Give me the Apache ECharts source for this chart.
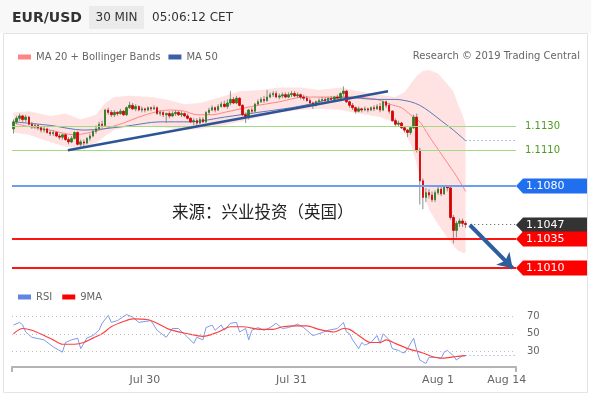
<!DOCTYPE html>
<html>
<head>
<meta charset="utf-8">
<script src="https://cdn.jsdelivr.net/npm/echarts@6/dist/echarts.min.js"></script>
<style>
  html, body { margin: 0; padding: 0; background: #fff; }
  #chart { width: 591px; height: 399px; }
</style>
</head>
<body>
<div id="chart"></div>
<script>
// slot count on the time axis (149 candles + empty space to the right)
const SLOTS = 165;

// 30 min candles, [open, close, low, high]
const candles = [
  [1.1128,1.1134,1.1124,1.1136],[1.1134,1.1137,1.1132,1.1139],[1.1137,1.1139,1.1135,1.1141],[1.1139,1.1136,1.1134,1.1140],[1.1136,1.1138,1.1134,1.1140],
  [1.1138,1.1132,1.1131,1.1139],[1.1132,1.1130,1.1128,1.1134],[1.1130,1.1131,1.1128,1.1133],[1.1131,1.1129,1.1127,1.1132],[1.1129,1.1127,1.1125,1.1130],
  [1.1127,1.1128,1.1125,1.1130],[1.1128,1.1125,1.1124,1.1129],[1.1125,1.1124,1.1122,1.1127],[1.1124,1.1125,1.1122,1.1127],[1.1125,1.1122,1.1121,1.1126],
  [1.1122,1.1121,1.1119,1.1124],[1.1121,1.1123,1.1119,1.1124],[1.1123,1.1119,1.1118,1.1124],[1.1119,1.1117,1.1115,1.1121],[1.1117,1.1120,1.1116,1.1122],
  [1.1120,1.1125,1.1119,1.1126],[1.1125,1.1115,1.1114,1.1126],[1.1115,1.1117,1.1113,1.1119],[1.1117,1.1116,1.1113,1.1119],[1.1116,1.1120,1.1115,1.1121],
  [1.1120,1.1122,1.1118,1.1124],[1.1122,1.1126,1.1121,1.1127],[1.1126,1.1128,1.1124,1.1131],[1.1128,1.1132,1.1127,1.1134],[1.1132,1.1131,1.1129,1.1135],
  [1.1131,1.1144,1.1130,1.1145],[1.1144,1.1142,1.1140,1.1146],[1.1142,1.1140,1.1138,1.1144],[1.1140,1.1142,1.1138,1.1144],[1.1142,1.1141,1.1139,1.1143],
  [1.1141,1.1143,1.1140,1.1145],[1.1143,1.1140,1.1139,1.1144],[1.1140,1.1146,1.1139,1.1147],[1.1146,1.1148,1.1145,1.1151],[1.1148,1.1145,1.1144,1.1150],
  [1.1145,1.1147,1.1143,1.1149],[1.1147,1.1144,1.1143,1.1148],[1.1144,1.1145,1.1142,1.1147],[1.1145,1.1144,1.1142,1.1146],[1.1144,1.1146,1.1143,1.1147],
  [1.1146,1.1145,1.1143,1.1147],[1.1145,1.1146,1.1144,1.1148],[1.1146,1.1141,1.1140,1.1147],[1.1141,1.1142,1.1139,1.1144],[1.1142,1.1140,1.1138,1.1143],
  [1.1140,1.1141,1.1133,1.1142],[1.1141,1.1139,1.1137,1.1143],[1.1139,1.1141,1.1138,1.1143],[1.1141,1.1142,1.1139,1.1144],[1.1142,1.1140,1.1139,1.1143],
  [1.1140,1.1141,1.1138,1.1143],[1.1141,1.1139,1.1138,1.1142],[1.1139,1.1137,1.1136,1.1141],[1.1137,1.1134,1.1133,1.1138],[1.1134,1.1135,1.1131,1.1137],
  [1.1135,1.1133,1.1130,1.1137],[1.1133,1.1136,1.1132,1.1138],[1.1136,1.1134,1.1133,1.1138],[1.1134,1.1142,1.1133,1.1143],[1.1142,1.1144,1.1140,1.1146],
  [1.1144,1.1146,1.1143,1.1148],[1.1146,1.1144,1.1142,1.1147],[1.1144,1.1147,1.1143,1.1149],[1.1147,1.1149,1.1146,1.1151],[1.1149,1.1147,1.1146,1.1152],
  [1.1147,1.1150,1.1145,1.1153],[1.1150,1.1153,1.1148,1.1160],[1.1153,1.1150,1.1149,1.1155],[1.1150,1.1154,1.1149,1.1156],[1.1154,1.1148,1.1147,1.1155],
  [1.1148,1.1140,1.1139,1.1149],[1.1140,1.1138,1.1133,1.1142],[1.1138,1.1144,1.1136,1.1145],[1.1144,1.1143,1.1141,1.1146],[1.1143,1.1149,1.1142,1.1150],
  [1.1149,1.1151,1.1148,1.1153],[1.1151,1.1153,1.1150,1.1155],[1.1153,1.1152,1.1150,1.1156],[1.1152,1.1155,1.1151,1.1161],[1.1155,1.1157,1.1154,1.1159],
  [1.1157,1.1158,1.1155,1.1160],[1.1158,1.1155,1.1154,1.1160],[1.1155,1.1156,1.1153,1.1158],[1.1156,1.1157,1.1154,1.1159],[1.1157,1.1155,1.1154,1.1159],
  [1.1155,1.1157,1.1154,1.1159],[1.1157,1.1158,1.1155,1.1160],[1.1158,1.1156,1.1155,1.1160],[1.1156,1.1157,1.1154,1.1159],[1.1157,1.1155,1.1153,1.1158],
  [1.1155,1.1154,1.1152,1.1157],[1.1154,1.1152,1.1151,1.1156],[1.1152,1.1150,1.1149,1.1154],[1.1150,1.1148,1.1145,1.1151],[1.1148,1.1151,1.1147,1.1152],
  [1.1151,1.1152,1.1150,1.1154],[1.1152,1.1153,1.1151,1.1155],[1.1153,1.1152,1.1151,1.1155],[1.1152,1.1154,1.1151,1.1155],[1.1154,1.1153,1.1152,1.1156],
  [1.1153,1.1155,1.1152,1.1156],[1.1155,1.1154,1.1153,1.1157],[1.1154,1.1158,1.1153,1.1159],[1.1158,1.1160,1.1156,1.1164],[1.1160,1.1151,1.1150,1.1161],
  [1.1151,1.1148,1.1146,1.1152],[1.1148,1.1146,1.1144,1.1150],[1.1146,1.1143,1.1141,1.1147],[1.1143,1.1145,1.1142,1.1147],[1.1145,1.1144,1.1142,1.1146],
  [1.1144,1.1145,1.1143,1.1147],[1.1145,1.1144,1.1142,1.1146],[1.1144,1.1146,1.1143,1.1147],[1.1146,1.1145,1.1143,1.1148],[1.1145,1.1147,1.1144,1.1149],
  [1.1147,1.1144,1.1142,1.1150],[1.1144,1.1151,1.1143,1.1152],[1.1151,1.1148,1.1146,1.1152],[1.1148,1.1143,1.1141,1.1150],[1.1143,1.1135,1.1134,1.1144],
  [1.1135,1.1132,1.1130,1.1137],[1.1132,1.1133,1.1130,1.1135],[1.1133,1.1129,1.1128,1.1134],[1.1129,1.1127,1.1125,1.1130],[1.1127,1.1125,1.1121,1.1128],
  [1.1125,1.1129,1.1123,1.1130],[1.1129,1.1138,1.1128,1.1140],[1.1138,1.1110,1.1108,1.1141],[1.1110,1.1084,1.1064,1.1112],[1.1084,1.1070,1.1060,1.1086],
  [1.1070,1.1074,1.1066,1.1078],[1.1074,1.1072,1.1069,1.1077],[1.1072,1.1068,1.1066,1.1075],[1.1068,1.1074,1.1066,1.1076],[1.1074,1.1077,1.1072,1.1079],
  [1.1077,1.1073,1.1071,1.1079],[1.1073,1.1079,1.1072,1.1080],[1.1079,1.1078,1.1075,1.1080],[1.1078,1.1053,1.1051,1.1080],[1.1053,1.1042,1.1031,1.1055],
  [1.1042,1.1048,1.1036,1.1050],[1.1048,1.1050,1.1045,1.1052],[1.1050,1.1048,1.1045,1.1052],[1.1048,1.1047,1.1044,1.1050]
];

// Bollinger bands (slot index, upper, lower)
const bandIdx   = [0, 5, 12, 17, 22, 27, 30, 33, 38, 45, 50, 56, 61, 68, 74, 81, 87, 94, 100, 107, 113, 120, 125, 128, 130, 132, 134, 136, 139, 142, 144, 145.5, 147, 148];
const bandUpper = [1.1142,1.1143,1.1139,1.1141,1.1136,1.1140,1.1150,1.1155,1.1156,1.1155,1.1153,1.1149,1.1150,1.1155,1.1160,1.1161,1.1163,1.1163,1.1161,1.1163,1.1160,1.1157,1.1155,1.1159,1.1166,1.1173,1.1177,1.1178,1.1175,1.1166,1.1160,1.1149,1.1140,1.1131];
const bandLower = [1.1125,1.1123,1.1117,1.1113,1.1112,1.1116,1.1122,1.1127,1.1130,1.1131,1.1129,1.1127,1.1128,1.1131,1.1134,1.1138,1.1142,1.1144,1.1145,1.1144,1.1141,1.1138,1.1133,1.1126,1.1115,1.1098,1.1077,1.1060,1.1047,1.1036,1.1029,1.1025,1.1023,1.1023];

// MA 20
const ma20Idx = [0, 5, 12, 20, 25, 31, 36, 41, 46, 51, 56, 60, 65, 69, 78, 87, 95, 104, 110, 119, 123, 127, 130, 133, 136, 140.5, 145, 148];
const ma20    = [1.1133,1.1130,1.1127,1.1123,1.1125,1.1129,1.1133,1.1138,1.1142,1.1144,1.1143,1.1140,1.1140,1.1142,1.1147,1.1151,1.1155,1.1155,1.1155,1.1153,1.1149,1.1146,1.1140,1.1134,1.1122,1.1105,1.1088,1.1075];

// MA 50
const ma50Idx = [0, 12, 23, 36, 48, 58, 69, 80, 91, 97, 108, 119, 125, 130, 133, 136, 140, 144, 148];
const ma50    = [1.1134,1.1131,1.1127,1.1130,1.1134,1.1134,1.1138,1.1142,1.1146,1.1149,1.1155,1.1153,1.1153,1.1151,1.1148,1.1143,1.1135,1.1127,1.1118];

// RSI and its 9 period MA
const rsiIdx = [0,2,3,4,6,10,13,16,17,19,21,22,24,26,28,29,31,32,34,37,39,41,45,47,50,52,54,57,59,60,62,63,65,66,68,69,71,73,74,76,77,78,80,82,84,86,88,90,93,95,98,100,103,106,108,109,110,111,113,114,115,117,119,120,121,123,124,126,127,128,129,131,132,133,134,135,136,139,140,141,142,144,145,147,148];
const rsi    = [60,63,60,52,46,43,35,29,40,43,45,33,45,48,54,62,71,63,65,72,69,63,65,54,46,56,56,46,39,46,43,57,60,54,60,54,62,63,52,56,43,54,57,54,57,62,56,57,61,57,48,50,54,56,63,52,50,43,33,40,37,40,48,39,50,43,33,31,29,28,33,45,31,20,18,16,23,23,22,29,31,25,20,25,25];
const rsiMaIdx = [0,3,6,10,13,16,20,23,26,29,32,36,39,44,47,51,57,62,67,71,75,81,85,88,93,96,100,105,108,110,113,117,120,122,125,129,131,134,137,140,143,145,148];
const rsiMa    = [50,56,54,48,43,38,38,40,45,50,58,64,67,66,62,55,50,47,52,58,58,55,55,58,59,59,55,52,56,55,48,40,40,43,39,33,31,28,24,22,23,24,25];

// price levels
const greenLevels = [1.1130, 1.1110];
const tagLevels = [1.1080, 1.1047, 1.1035, 1.1010];
const tagColors = ['#1f6fee', '#333333', '#ff0000', '#ff0000'];
const lastClose = 1.1047;
const ma50Last = 1.1118;
const rsiLast = 25;

// trend line and forecast arrow, [slot index, price]
const trendLine = [[17.8, 1.1110], [122.6, 1.1160]];
const arrowLine = [[149.4, 1.10466], [163.4, 1.1010]];

// time axis labels
const xLabelIdx = [43, 91, 139, 161.5];
const xLabels = ['Jul 30', 'Jul 31', 'Aug 1', 'Aug 14'];

const FONT = 'DejaVu Sans';
const chart = echarts.init(document.getElementById('chart'));

const option = {
  animation: false,
  textStyle: { fontFamily: FONT },
  legend: [
    {
      data: ['MA 20 + Bollinger Bands', 'MA 50'],
      left: 13, top: 47, icon: 'rect', itemWidth: 13, itemHeight: 5, itemGap: 8,
      selectedMode: false,
      textStyle: { fontSize: 10, color: '#666', fontFamily: FONT }
    },
    {
      data: ['RSI', '9MA'],
      left: 13, top: 287, icon: 'rect', itemWidth: 13, itemHeight: 5, itemGap: 10,
      selectedMode: false,
      textStyle: { fontSize: 10, color: '#666', fontFamily: FONT }
    }
  ],
  grid: [
    { left: 12, right: 75, top: 62, height: 218 },
    { left: 12, right: 75, top: 304, height: 63 }
  ],
  xAxis: [
    { type: 'category', gridIndex: 0, data: Array.from({ length: SLOTS }, (_, i) => i), boundaryGap: true, show: false },
    { type: 'value', gridIndex: 0, min: -0.5, max: SLOTS - 0.5, show: false },
    {
      type: 'value', gridIndex: 1, min: -0.5, max: SLOTS - 0.5,
      splitLine: { show: false },
      axisLine: { show: true, lineStyle: { color: '#b4b4b4', width: 2 } },
      axisTick: { show: true, customValues: [-0.5, SLOTS - 0.5], length: 5, lineStyle: { color: '#b4b4b4', width: 2 } },
      axisLabel: {
        customValues: xLabelIdx, color: '#666', fontSize: 11, margin: 8,
        formatter: v => xLabels[xLabelIdx.indexOf(v)] || ''
      }
    }
  ],
  yAxis: [
    { type: 'value', gridIndex: 0, min: 1.1000, max: 1.11847, show: false },
    {
      type: 'value', gridIndex: 1, min: 12, max: 84, position: 'right',
      splitLine: { show: false }, axisLine: { show: false }, axisTick: { show: false },
      axisLabel: { customValues: [30, 50, 70], color: '#666', fontSize: 10, margin: 11 }
    }
  ],
  series: [
    {
      // bollinger band area
      type: 'custom', xAxisIndex: 1, yAxisIndex: 0, silent: true, z: 1,
      data: [[0]],
      renderItem: (params, api) => {
        const pts = [];
        bandIdx.forEach((x, k) => pts.push(api.coord([x, bandUpper[k]])));
        for (let k = bandIdx.length - 1; k >= 0; k--) pts.push(api.coord([bandIdx[k], bandLower[k]]));
        return { type: 'polygon', shape: { points: pts }, style: { fill: 'rgba(255,110,110,0.2)' } };
      }
    },
    {
      name: 'MA 20 + Bollinger Bands', type: 'line', xAxisIndex: 1, yAxisIndex: 0, z: 2,
      data: ma20Idx.map((x, k) => [x, ma20[k]]),
      showSymbol: false, smooth: 0.3, silent: true,
      color: '#ff8585', lineStyle: { width: 1, color: '#ff8585' }
    },
    {
      name: 'MA 50', type: 'line', xAxisIndex: 1, yAxisIndex: 0, z: 2,
      data: ma50Idx.map((x, k) => [x, ma50[k]]),
      showSymbol: false, smooth: 0.3, silent: true,
      color: '#3c5fa5', lineStyle: { width: 1, color: '#5b78b8' }
    },
    {
      // candle wicks
      type: 'custom', xAxisIndex: 1, yAxisIndex: 0, silent: true, z: 3,
      data: candles.map((c, i) => [i, c[2], c[3]]),
      renderItem: (params, api) => {
        const lo = api.coord([api.value(0), api.value(1)]);
        const hi = api.coord([api.value(0), api.value(2)]);
        return { type: 'line', shape: { x1: lo[0], y1: lo[1], x2: hi[0], y2: hi[1] }, style: { stroke: '#8c8c8c', lineWidth: 1 } };
      }
    },
    {
      type: 'candlestick', xAxisIndex: 0, yAxisIndex: 0, z: 4, silent: true,
      barWidth: 2,
      data: candles.map(c => [c[0], c[1], Math.min(c[0], c[1]), Math.max(c[0], c[1])]),
      itemStyle: { color: '#2f7d22', color0: '#d80000', borderColor: '#2f7d22', borderColor0: '#d80000', borderWidth: 0.8 }
    },
    {
      // trend line + horizontal levels
      type: 'line', xAxisIndex: 1, yAxisIndex: 0, z: 5, silent: true,
      data: trendLine, showSymbol: false,
      lineStyle: { color: '#2c5596', width: 2.5 },
      markLine: {
        silent: true, symbol: 'none', precision: 4, label: { show: false },
        data: [
          { yAxis: greenLevels[0], lineStyle: { color: '#a3d884', width: 1, type: 'solid' } },
          { yAxis: greenLevels[1], lineStyle: { color: '#a3d884', width: 1, type: 'solid' } },
          { yAxis: tagLevels[0], lineStyle: { color: '#6f9ef0', width: 2, type: 'solid' } },
          { yAxis: tagLevels[2], lineStyle: { color: '#ff1414', width: 2, type: 'solid' } },
          { yAxis: tagLevels[3], lineStyle: { color: '#ff1414', width: 2, type: 'solid' } },
          [{ coord: [149.5, lastClose], lineStyle: { color: '#555', width: 1, type: [1, 3] } }, { coord: [SLOTS - 0.5, lastClose] }],
          [{ coord: [148, ma50Last], lineStyle: { color: '#6a86c4', width: 1, type: [1, 3] } }, { coord: [SLOTS - 0.5, ma50Last] }]
        ]
      }
    },
    {
      // forecast arrow
      type: 'line', xAxisIndex: 1, yAxisIndex: 0, z: 6, silent: true,
      data: [], showSymbol: false,
      markLine: {
        silent: true, symbol: ['none', 'arrow'], symbolSize: 14, precision: 5, label: { show: false },
        lineStyle: { color: '#2f5e9e', width: 4, type: 'solid' },
        data: [[{ coord: arrowLine[0] }, { coord: arrowLine[1] }]]
      }
    },
    {
      // right-hand price tags
      type: 'custom', xAxisIndex: 1, yAxisIndex: 0, silent: true, clip: false, z: 10,
      data: tagLevels.map(v => [v]),
      renderItem: (params, api) => {
        const p = api.coord([SLOTS - 0.5, api.value(0)]);
        const x = p[0], y = Math.round(p[1]);
        return {
          type: 'group',
          children: [
            { type: 'polygon', shape: { points: [[x, y], [x + 7, y - 7.5], [x + 71, y - 7.5], [x + 71, y + 7.5], [x + 7, y + 7.5]] }, style: { fill: tagColors[params.dataIndex] } },
            { type: 'text', x: x + 10, y: y + 0.5, style: { text: api.value(0).toFixed(4), fill: '#fff', font: '11px ' + FONT, verticalAlign: 'middle' } }
          ]
        };
      }
    },
    {
      // green level labels
      type: 'custom', xAxisIndex: 1, yAxisIndex: 0, silent: true, clip: false, z: 10,
      data: greenLevels.map(v => [v]),
      renderItem: (params, api) => {
        const p = api.coord([SLOTS - 0.5, api.value(0)]);
        return { type: 'text', x: p[0] + 9, y: p[1], style: { text: api.value(0).toFixed(4), fill: '#4f9a22', font: '10px ' + FONT, verticalAlign: 'middle' } };
      }
    },
    {
      name: 'RSI', type: 'line', xAxisIndex: 2, yAxisIndex: 1, silent: true,
      data: rsiIdx.map((x, k) => [x, rsi[k]]), showSymbol: false,
      color: '#5f84e2', lineStyle: { width: 1, color: '#7d9be8' },
      markLine: {
        silent: true, symbol: 'none', precision: 2, label: { show: false },
        data: [
          { yAxis: 30, lineStyle: { color: '#bbb', width: 1, type: [1, 3] } },
          { yAxis: 50, lineStyle: { color: '#bbb', width: 1, type: [1, 3] } },
          { yAxis: 70, lineStyle: { color: '#bbb', width: 1, type: [1, 3] } },
          [{ coord: [148, rsiLast], lineStyle: { color: '#7d9be8', width: 1, type: [1, 3] } }, { coord: [SLOTS - 0.5, rsiLast] }]
        ]
      }
    },
    {
      name: '9MA', type: 'line', xAxisIndex: 2, yAxisIndex: 1, silent: true,
      data: rsiMaIdx.map((x, k) => [x, rsiMa[k]]), showSymbol: false, smooth: 0.3,
      color: '#ff0000', lineStyle: { width: 1.2, color: '#ff4040' }
    }
  ],
  graphic: [
    { type: 'rect', shape: { x: 0, y: 0, width: 591, height: 33 }, style: { fill: '#f8f8f8' }, silent: true },
    { type: 'rect', shape: { x: 3.5, y: 33.5, width: 584, height: 359 }, style: { fill: 'none', stroke: '#e4e4e4', lineWidth: 1 }, silent: true },
    { type: 'rect', shape: { x: 89, y: 6, width: 55, height: 23 }, style: { fill: '#ebebeb' }, silent: true },
    { type: 'text', x: 12, y: 18, style: { text: 'EUR/USD', font: 'bold 14px ' + FONT, fill: '#333', verticalAlign: 'middle' }, silent: true },
    { type: 'text', x: 116.5, y: 18, style: { text: '30 MIN', font: '12px ' + FONT, fill: '#333', align: 'center', verticalAlign: 'middle' }, silent: true },
    { type: 'text', x: 152, y: 18, style: { text: '05:06:12 CET', font: '12px ' + FONT, fill: '#333', verticalAlign: 'middle' }, silent: true },
    { type: 'text', x: 580, y: 56.5, style: { text: 'Research © 2019 Trading Central', font: '10px ' + FONT, fill: '#666', align: 'right', verticalAlign: 'middle' }, silent: true },
    { type: 'text', x: 172, y: 212, z: 20, style: { text: '来源：兴业投资（英国）', font: '16.5px "Noto Sans CJK SC"', fill: '#222', verticalAlign: 'middle' }, silent: true }
  ]
};

chart.setOption(option);
</script>
</body>
</html>
